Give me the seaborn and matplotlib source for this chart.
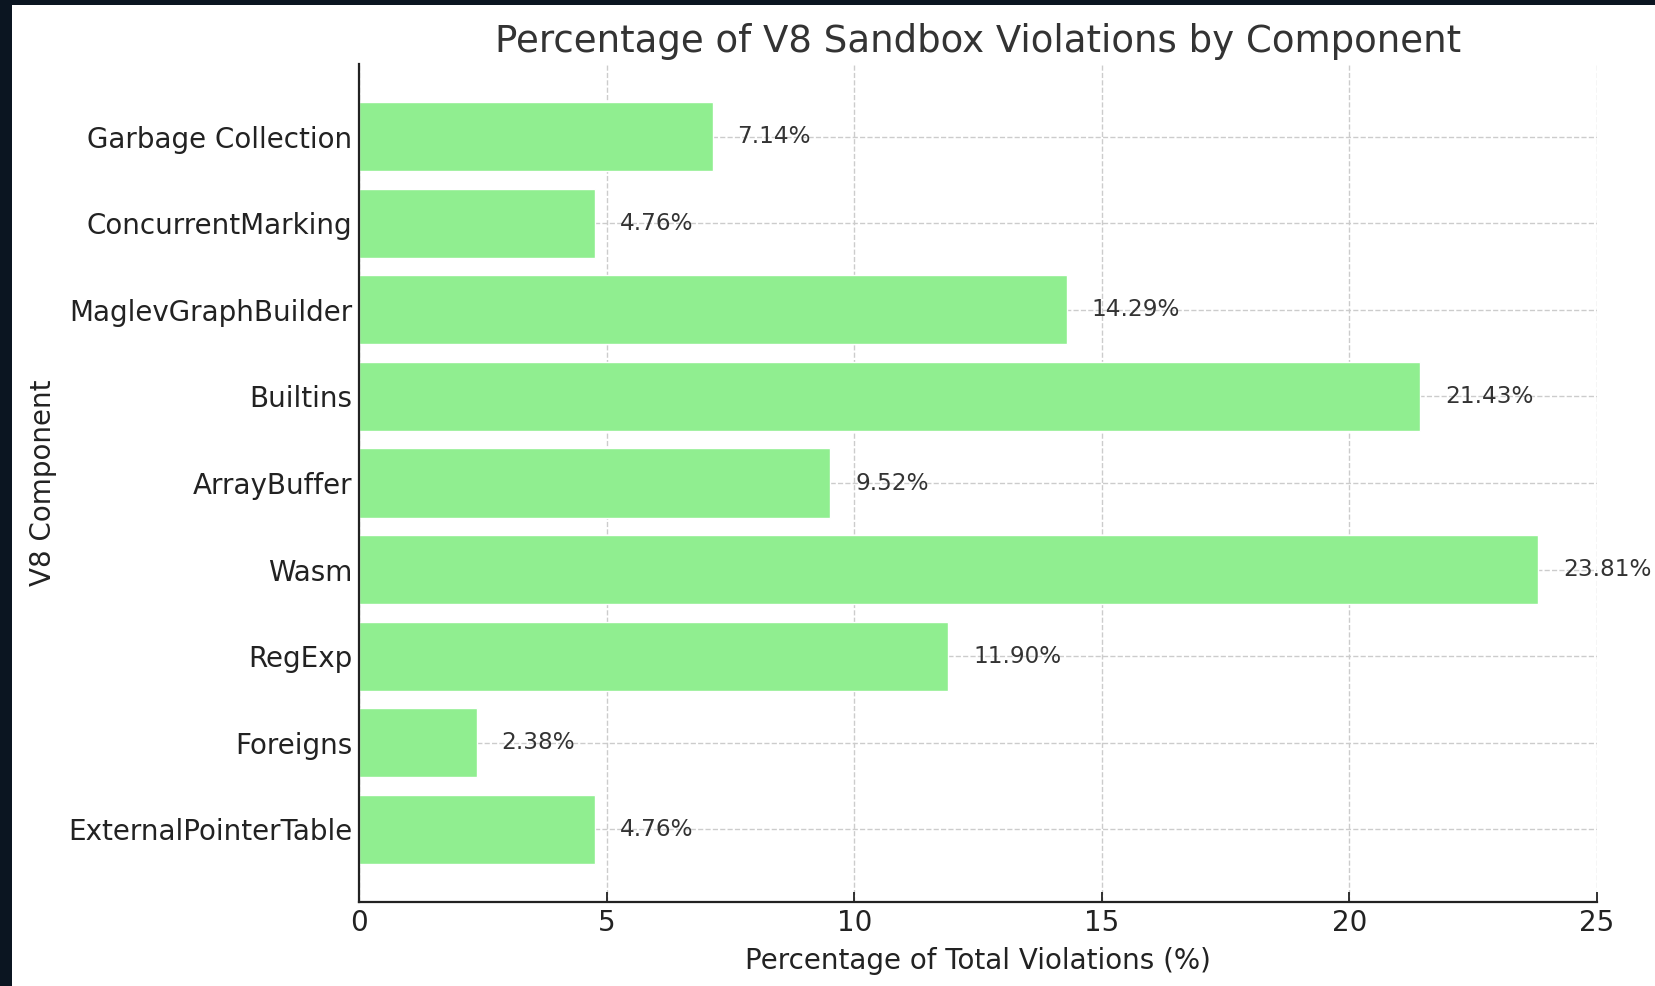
import seaborn as sns
import matplotlib.pyplot as plt
import pandas as pd
from matplotlib.patches import Rectangle

components = ["Garbage Collection", "ConcurrentMarking", "MaglevGraphBuilder", "Builtins",
              "ArrayBuffer", "Wasm", "RegExp", "Foreigns", "ExternalPointerTable"]
percentages = [7.14, 4.76, 14.29, 21.43, 9.52, 23.81, 11.90, 2.38, 4.76]

df = pd.DataFrame({"component": components, "pct": percentages})

sns.set_style("white")
plt.rcParams['font.family'] = ['DejaVu Sans']
text_color = '#333333'

fig = plt.figure(figsize=(16.55, 9.86), dpi=100, facecolor='#0b1521')
# white page inside the dark screenshot frame
fig.patches.append(Rectangle((12 / 1655, 0), 1 - 12 / 1655, 1 - 5 / 986, transform=fig.transFigure,
                             facecolor='white', edgecolor='none', zorder=-10))
ax = fig.add_axes([359 / 1655, 1 - 902 / 986, (1597 - 359) / 1655, (902 - 64) / 986])

sns.barplot(data=df, x="pct", y="component", orient="h", color="lightgreen", saturation=1, ax=ax, zorder=2)

for i, v in enumerate(percentages):
    ax.text(v + 0.5, i, f"{v:.2f}%", va='center', ha='left', fontsize=16.7, color=text_color)

ax.set_xlim(0, 25)
ax.set_ylim(len(components) - 1 + 0.84, -0.84)
ax.set_xticks([0, 5, 10, 15, 20, 25])
ax.grid(True, linestyle='--', color='#cccccc', linewidth=1.0, zorder=0)
ax.set_axisbelow(True)
sns.despine(ax=ax)
for s in ['left', 'bottom']:
    ax.spines[s].set_color('#222222')
    ax.spines[s].set_linewidth(1.6)
ax.tick_params(axis='both', direction='in', length=7, width=1.3, color='#222222', labelsize=20,
               labelcolor='#222222', left=True, bottom=True, pad=5, zorder=3)

ax.set_title("Percentage of V8 Sandbox Violations by Component", fontsize=26.7, color=text_color, pad=9)
ax.set_xlabel("Percentage of Total Violations (%)", fontsize=20, color='#222222', labelpad=7)
ax.set_ylabel("V8 Component", fontsize=20, color='#222222', labelpad=8)

fig.savefig("out.png", dpi=100, facecolor=fig.get_facecolor())
